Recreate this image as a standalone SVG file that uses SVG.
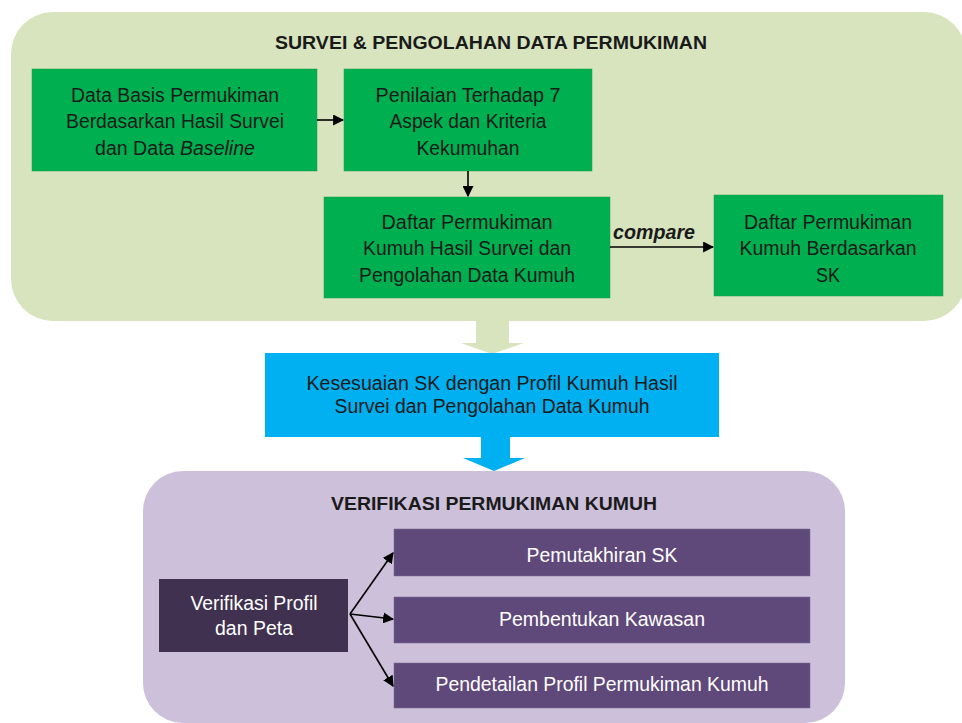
<svg xmlns="http://www.w3.org/2000/svg" width="962" height="723" viewBox="0 0 962 723">
<defs>
<style>
text{font-family:"Liberation Sans",Arial,sans-serif;font-size:20px;fill:#1a1a1a;text-anchor:middle}
.t{font-weight:bold;font-size:19px}
.w{fill:#ffffff}
.g{fill:#00B050;stroke:#1f9a4a;stroke-width:0.5}
.p{fill:#5F497A;stroke:#7a6a90;stroke-width:0.5}
.c{stroke:#000;stroke-width:1.6;fill:none}
</style>
<marker id="ah2" viewBox="0 0 10 10" refX="9" refY="5" markerWidth="11" markerHeight="11" markerUnits="userSpaceOnUse" orient="auto">
<path d="M0,0 L10,5 L0,10 z" fill="#000"/>
</marker>
</defs>
<rect width="962" height="723" fill="#fff"/>

<g id="survei-container">
<rect x="11" y="12" width="955" height="309" rx="42" fill="#D7E4BD"/>
<text class="t" x="491" y="49" textLength="432" lengthAdjust="spacingAndGlyphs">SURVEI &amp; PENGOLAHAN DATA PERMUKIMAN</text>
</g>

<g id="data-basis">
<rect class="g" x="32" y="69" width="285" height="102"/>
<text x="175" y="102" textLength="208" lengthAdjust="spacingAndGlyphs">Data Basis Permukiman</text>
<text x="175" y="128" textLength="218" lengthAdjust="spacingAndGlyphs">Berdasarkan Hasil Survei</text>
<text x="175" y="155" textLength="160" lengthAdjust="spacingAndGlyphs">dan Data <tspan font-style="italic">Baseline</tspan></text>
</g>

<g id="penilaian">
<rect class="g" x="344" y="69" width="248" height="102"/>
<text x="468" y="102" textLength="185" lengthAdjust="spacingAndGlyphs">Penilaian Terhadap 7</text>
<text x="468" y="128" textLength="157" lengthAdjust="spacingAndGlyphs">Aspek dan Kriteria</text>
<text x="468" y="155" textLength="103" lengthAdjust="spacingAndGlyphs">Kekumuhan</text>
</g>

<g id="daftar-survei">
<rect class="g" x="324" y="197" width="286" height="101"/>
<text x="467" y="229" textLength="171" lengthAdjust="spacingAndGlyphs">Daftar  Permukiman</text>
<text x="467" y="255" textLength="208" lengthAdjust="spacingAndGlyphs">Kumuh Hasil Survei dan</text>
<text x="467" y="282" textLength="216" lengthAdjust="spacingAndGlyphs">Pengolahan Data Kumuh</text>
</g>

<g id="daftar-sk">
<rect class="g" x="714" y="195" width="229" height="101"/>
<text x="828" y="229" textLength="168" lengthAdjust="spacingAndGlyphs">Daftar Permukiman</text>
<text x="828" y="255" textLength="177" lengthAdjust="spacingAndGlyphs">Kumuh Berdasarkan</text>
<text x="828" y="282" textLength="24" lengthAdjust="spacingAndGlyphs">SK</text>
</g>

<g id="kesesuaian">
<polygon points="476,318 509,318 509,343 524,343 492,354 461,343 476,343" fill="#D7E4BD"/>
<rect x="265" y="353" width="454" height="84" fill="#00B0F0"/>
<text x="492" y="390" textLength="371" lengthAdjust="spacingAndGlyphs">Kesesuaian SK  dengan Profil Kumuh Hasil</text>
<text x="492" y="413" textLength="315" lengthAdjust="spacingAndGlyphs">Survei dan Pengolahan Data Kumuh</text>
<polygon points="481,436 510,436 510,458 525,458 494,471 463,458 481,458" fill="#00B0F0"/>
</g>

<g id="verifikasi-container">
<rect x="143" y="471" width="702" height="252" rx="40" fill="#CCC0DA"/>
<text class="t" x="494" y="510" textLength="326" lengthAdjust="spacingAndGlyphs">VERIFIKASI PERMUKIMAN KUMUH</text>
</g>

<g id="verifikasi-profil">
<rect x="159" y="579" width="189" height="73" fill="#403151"/>
<text class="w" x="254" y="610" textLength="127" lengthAdjust="spacingAndGlyphs">Verifikasi Profil</text>
<text class="w" x="254" y="635" textLength="78" lengthAdjust="spacingAndGlyphs">dan Peta</text>
</g>

<g id="pemutakhiran">
<rect class="p" x="394" y="529" width="416" height="47"/>
<text class="w" x="602" y="562" textLength="151" lengthAdjust="spacingAndGlyphs">Pemutakhiran SK</text>
</g>

<g id="pembentukan">
<rect class="p" x="394" y="597" width="416" height="46"/>
<text class="w" x="602" y="626" textLength="206" lengthAdjust="spacingAndGlyphs">Pembentukan Kawasan</text>
</g>

<g id="pendetailan">
<rect class="p" x="394" y="663" width="416" height="45"/>
<text class="w" x="602" y="691" textLength="333" lengthAdjust="spacingAndGlyphs">Pendetailan Profil Permukiman Kumuh</text>
</g>

<g id="connectors">
<line class="c" x1="317" y1="120" x2="343" y2="120" marker-end="url(#ah2)"/>
<line class="c" x1="468" y1="171" x2="468" y2="196" marker-end="url(#ah2)"/>
<line class="c" x1="610" y1="247" x2="713" y2="247" marker-end="url(#ah2)"/>
<text x="654" y="239" font-weight="bold" font-style="italic" textLength="82" lengthAdjust="spacingAndGlyphs">compare</text>
<line class="c" x1="350" y1="614" x2="393" y2="553" marker-end="url(#ah2)"/>
<line class="c" x1="350" y1="614" x2="393" y2="619" marker-end="url(#ah2)"/>
<line class="c" x1="350" y1="614" x2="393" y2="686" marker-end="url(#ah2)"/>
</g>
</svg>
